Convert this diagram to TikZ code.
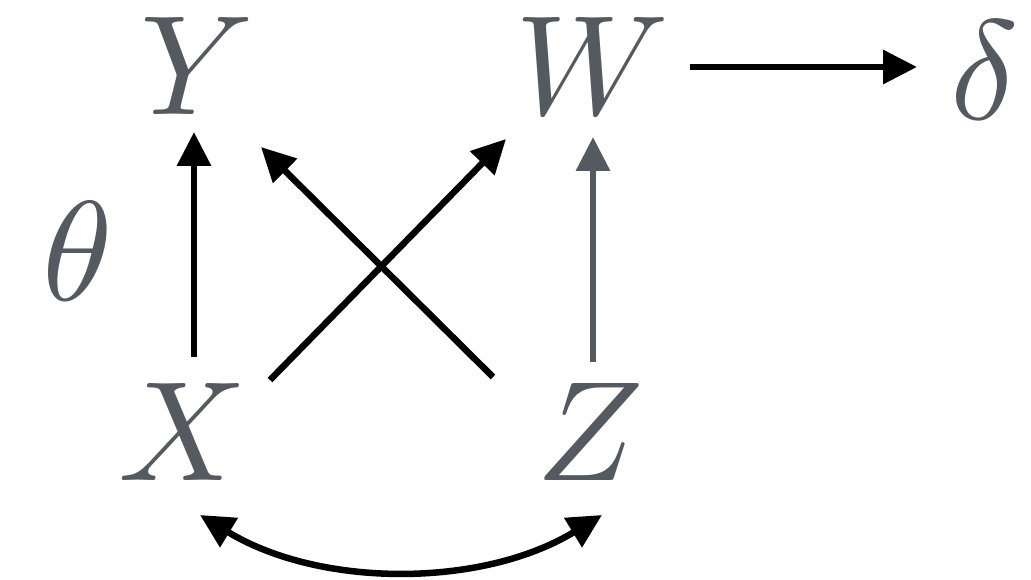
\documentclass[tikz,border=0pt]{standalone}
\usepackage{graphicx}
\usetikzlibrary{arrows.meta}
\definecolor{lettergray}{HTML}{555A60}
\newcommand\bigvar[1]{\scalebox{14.2}{$#1$}}
\tikzset{
  var/.style={inner sep=0pt, anchor=base, text=lettergray},
  arr/.style={line width=6.5pt, -{Triangle[width=33pt,length=34pt]}},
  biarr/.style={line width=6.5pt, {Triangle[width=33pt,length=34pt]}-{Triangle[width=33pt,length=34pt]}},
}
\begin{document}
\begin{tikzpicture}[x=1pt,y=-1pt]
\useasboundingbox (0,0) rectangle (1031,580);
\node[var] (Y) at (197,115) {\bigvar{Y}};
\node[var] (W) at (592,115) {\bigvar{W}};
\node[var] (D) at (985,120) {\bigvar{\delta}};
\node[var] (T) at (78,300) {\bigvar{\theta}};
\node[var] (X) at (183,480) {\bigvar{X}};
\node[var] (Z) at (590,480) {\bigvar{Z}};
\coordinate (xy0) at (194,357);
\coordinate (xy1) at (194,132);
\coordinate (zw0) at (593,362);
\coordinate (zw1) at (593,137);
\coordinate (xw0) at (270,380);
\coordinate (xw1) at (506,139);
\coordinate (zy0) at (493,377);
\coordinate (zy1) at (261,147);
\coordinate (wd0) at (690,67);
\coordinate (wd1) at (917,67);
\coordinate (xz0) at (200,515);
\coordinate (xz1) at (602,515);
\draw[arr] (xy0) -- (xy1);
\draw[arr, draw=lettergray, fill=lettergray] (zw0) -- (zw1);
\draw[arr] (xw0) -- (xw1);
\draw[arr] (zy0) -- (zy1);
\draw[arr] (wd0) -- (wd1);
\draw[biarr] (xz0) .. controls (320,588) and (482,588) .. (xz1);
\end{tikzpicture}
\end{document}
